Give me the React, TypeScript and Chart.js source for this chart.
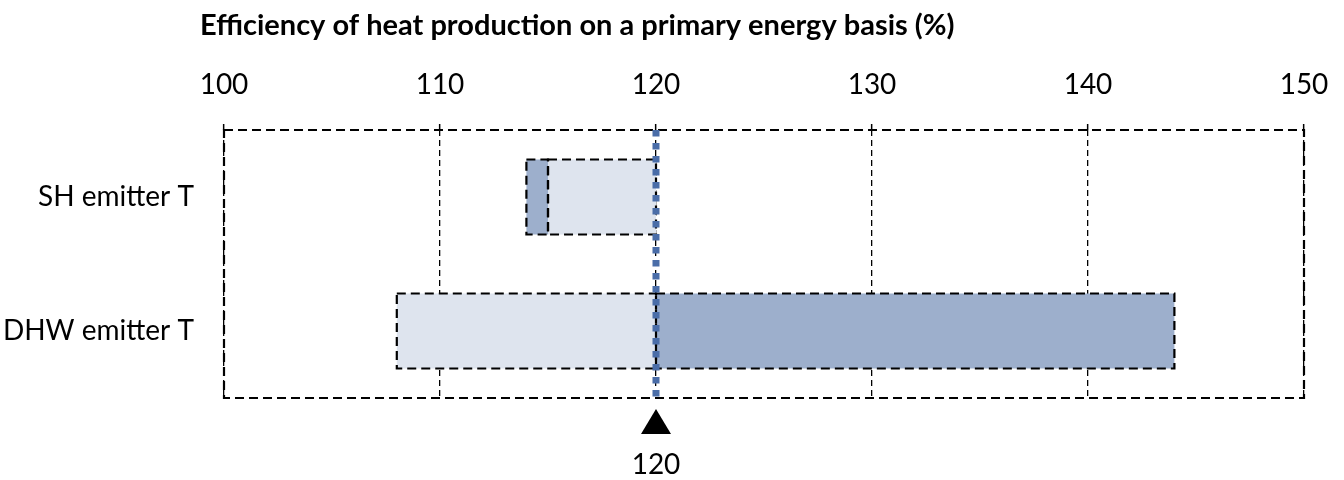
import React, { useEffect, useRef } from "react";
import { Chart, registerables } from "chart.js";

Chart.register(...registerables);

const chartTitle = "Efficiency of heat production on a primary energy basis (%)";
const categories = ["SH emitter T", "DHW emitter T"];
// floating bars [start, end]
const lowerRanges: [number, number][] = [
  [115, 120],
  [108, 120],
];
const upperRanges: [number, number][] = [
  [114, 115],
  [120, 144],
];
const referenceValue = 120;
const referenceLabel = "120";
const xMin = 100;
const xMax = 150;
const xStep = 10;

const FONT = "Lato, 'Open Sans', sans-serif";

const decorPlugin = {
  id: "decor",
  afterDatasetsDraw(chart: any) {
    const { ctx, chartArea } = chart;
    ctx.save();
    // dashed borders around bars
    ctx.strokeStyle = "#000";
    ctx.lineWidth = 2.2;
    ctx.setLineDash([9, 5]);
    chart.data.datasets.forEach((_: any, di: number) => {
      const meta = chart.getDatasetMeta(di);
      meta.data.forEach((el: any) => {
        const p = el.getProps(["x", "y", "base", "height"], true);
        const left = Math.min(p.x, p.base);
        const w = Math.abs(p.x - p.base);
        const top = p.y - p.height / 2;
        ctx.strokeRect(left, top, w, p.height);
      });
    });
    // plot box
    ctx.strokeRect(chartArea.left, chartArea.top, chartArea.right - chartArea.left, chartArea.bottom - chartArea.top);
    // reference line
    const xs = chart.scales.x;
    const rx = xs.getPixelForValue(referenceValue);
    ctx.strokeStyle = "#4A6DA8";
    ctx.lineWidth = 7;
    ctx.setLineDash([6.5, 6.5]);
    ctx.beginPath();
    ctx.moveTo(rx, chartArea.top);
    ctx.lineTo(rx, chartArea.bottom);
    ctx.stroke();
    ctx.setLineDash([]);
    // triangle marker
    ctx.fillStyle = "#000";
    ctx.beginPath();
    ctx.moveTo(rx, chartArea.bottom + 11);
    ctx.lineTo(rx + 15, chartArea.bottom + 36);
    ctx.lineTo(rx - 15, chartArea.bottom + 36);
    ctx.closePath();
    ctx.fill();
    ctx.font = `28px ${FONT}`;
    ctx.textAlign = "center";
    ctx.textBaseline = "middle";
    ctx.fillText(referenceLabel, rx, chartArea.bottom + 67);
    // title
    ctx.font = `bold 29px ${FONT}`;
    ctx.textAlign = "left";
    ctx.fillText(chartTitle, 200, 26);
    ctx.restore();
  },
};

export default function App() {
  const ref = useRef<HTMLCanvasElement>(null);
  useEffect(() => {
    if (!ref.current) return;
    const chart = new Chart(ref.current, {
      type: "bar",
      data: {
        labels: categories,
        datasets: [
          {
            label: "lower",
            data: lowerRanges as any,
            backgroundColor: "#DEE4EE",
            borderWidth: 0,
            grouped: false,
            categoryPercentage: 0.56,
            barPercentage: 1,
          } as any,
          {
            label: "upper",
            data: upperRanges as any,
            backgroundColor: "#9DAFCC",
            borderWidth: 0,
            grouped: false,
            categoryPercentage: 0.56,
            barPercentage: 1,
          } as any,
        ],
      },
      options: {
        indexAxis: "y",
        animation: false,
        responsive: false,
        layout: { padding: { top: 0, left: 0, right: 40, bottom: 82 } },
        plugins: {
          legend: { display: false },
          tooltip: { enabled: false },
          title: { display: false },
        },
        scales: {
          x: {
            position: "top",
            min: xMin,
            max: xMax,
            ticks: {
              stepSize: xStep,
              padding: 22,
              color: "#000",
              font: { family: FONT, size: 28 },
            },
            grid: {
              color: "#000",
              lineWidth: 1.3,
              tickLength: 6,
              tickColor: "#000",
              tickWidth: 1.5,
              tickBorderDash: [],
            } as any,
            border: { display: false, dash: [6, 4] },
            afterFit: (s: any) => {
              s.height = 130;
              s.paddingLeft = 0;
              s.paddingRight = 0;
            },
          } as any,
          y: {
            ticks: {
              padding: 22,
              color: "#000",
              font: { family: FONT, size: 28 },
            },
            grid: { display: false },
            border: { display: false },
            afterFit: (s: any) => {
              s.width = 224;
              s.paddingTop = 0;
              s.paddingBottom = 0;
            },
          } as any,
        },
      },
      plugins: [decorPlugin],
    } as any);
    return () => chart.destroy();
  }, []);
  return (
    <div style={{ position: "fixed", left: 0, top: 0, width: 1344, height: 480, background: "#fff" }}>
      <canvas ref={ref} width={1344} height={480} />
    </div>
  );
}
